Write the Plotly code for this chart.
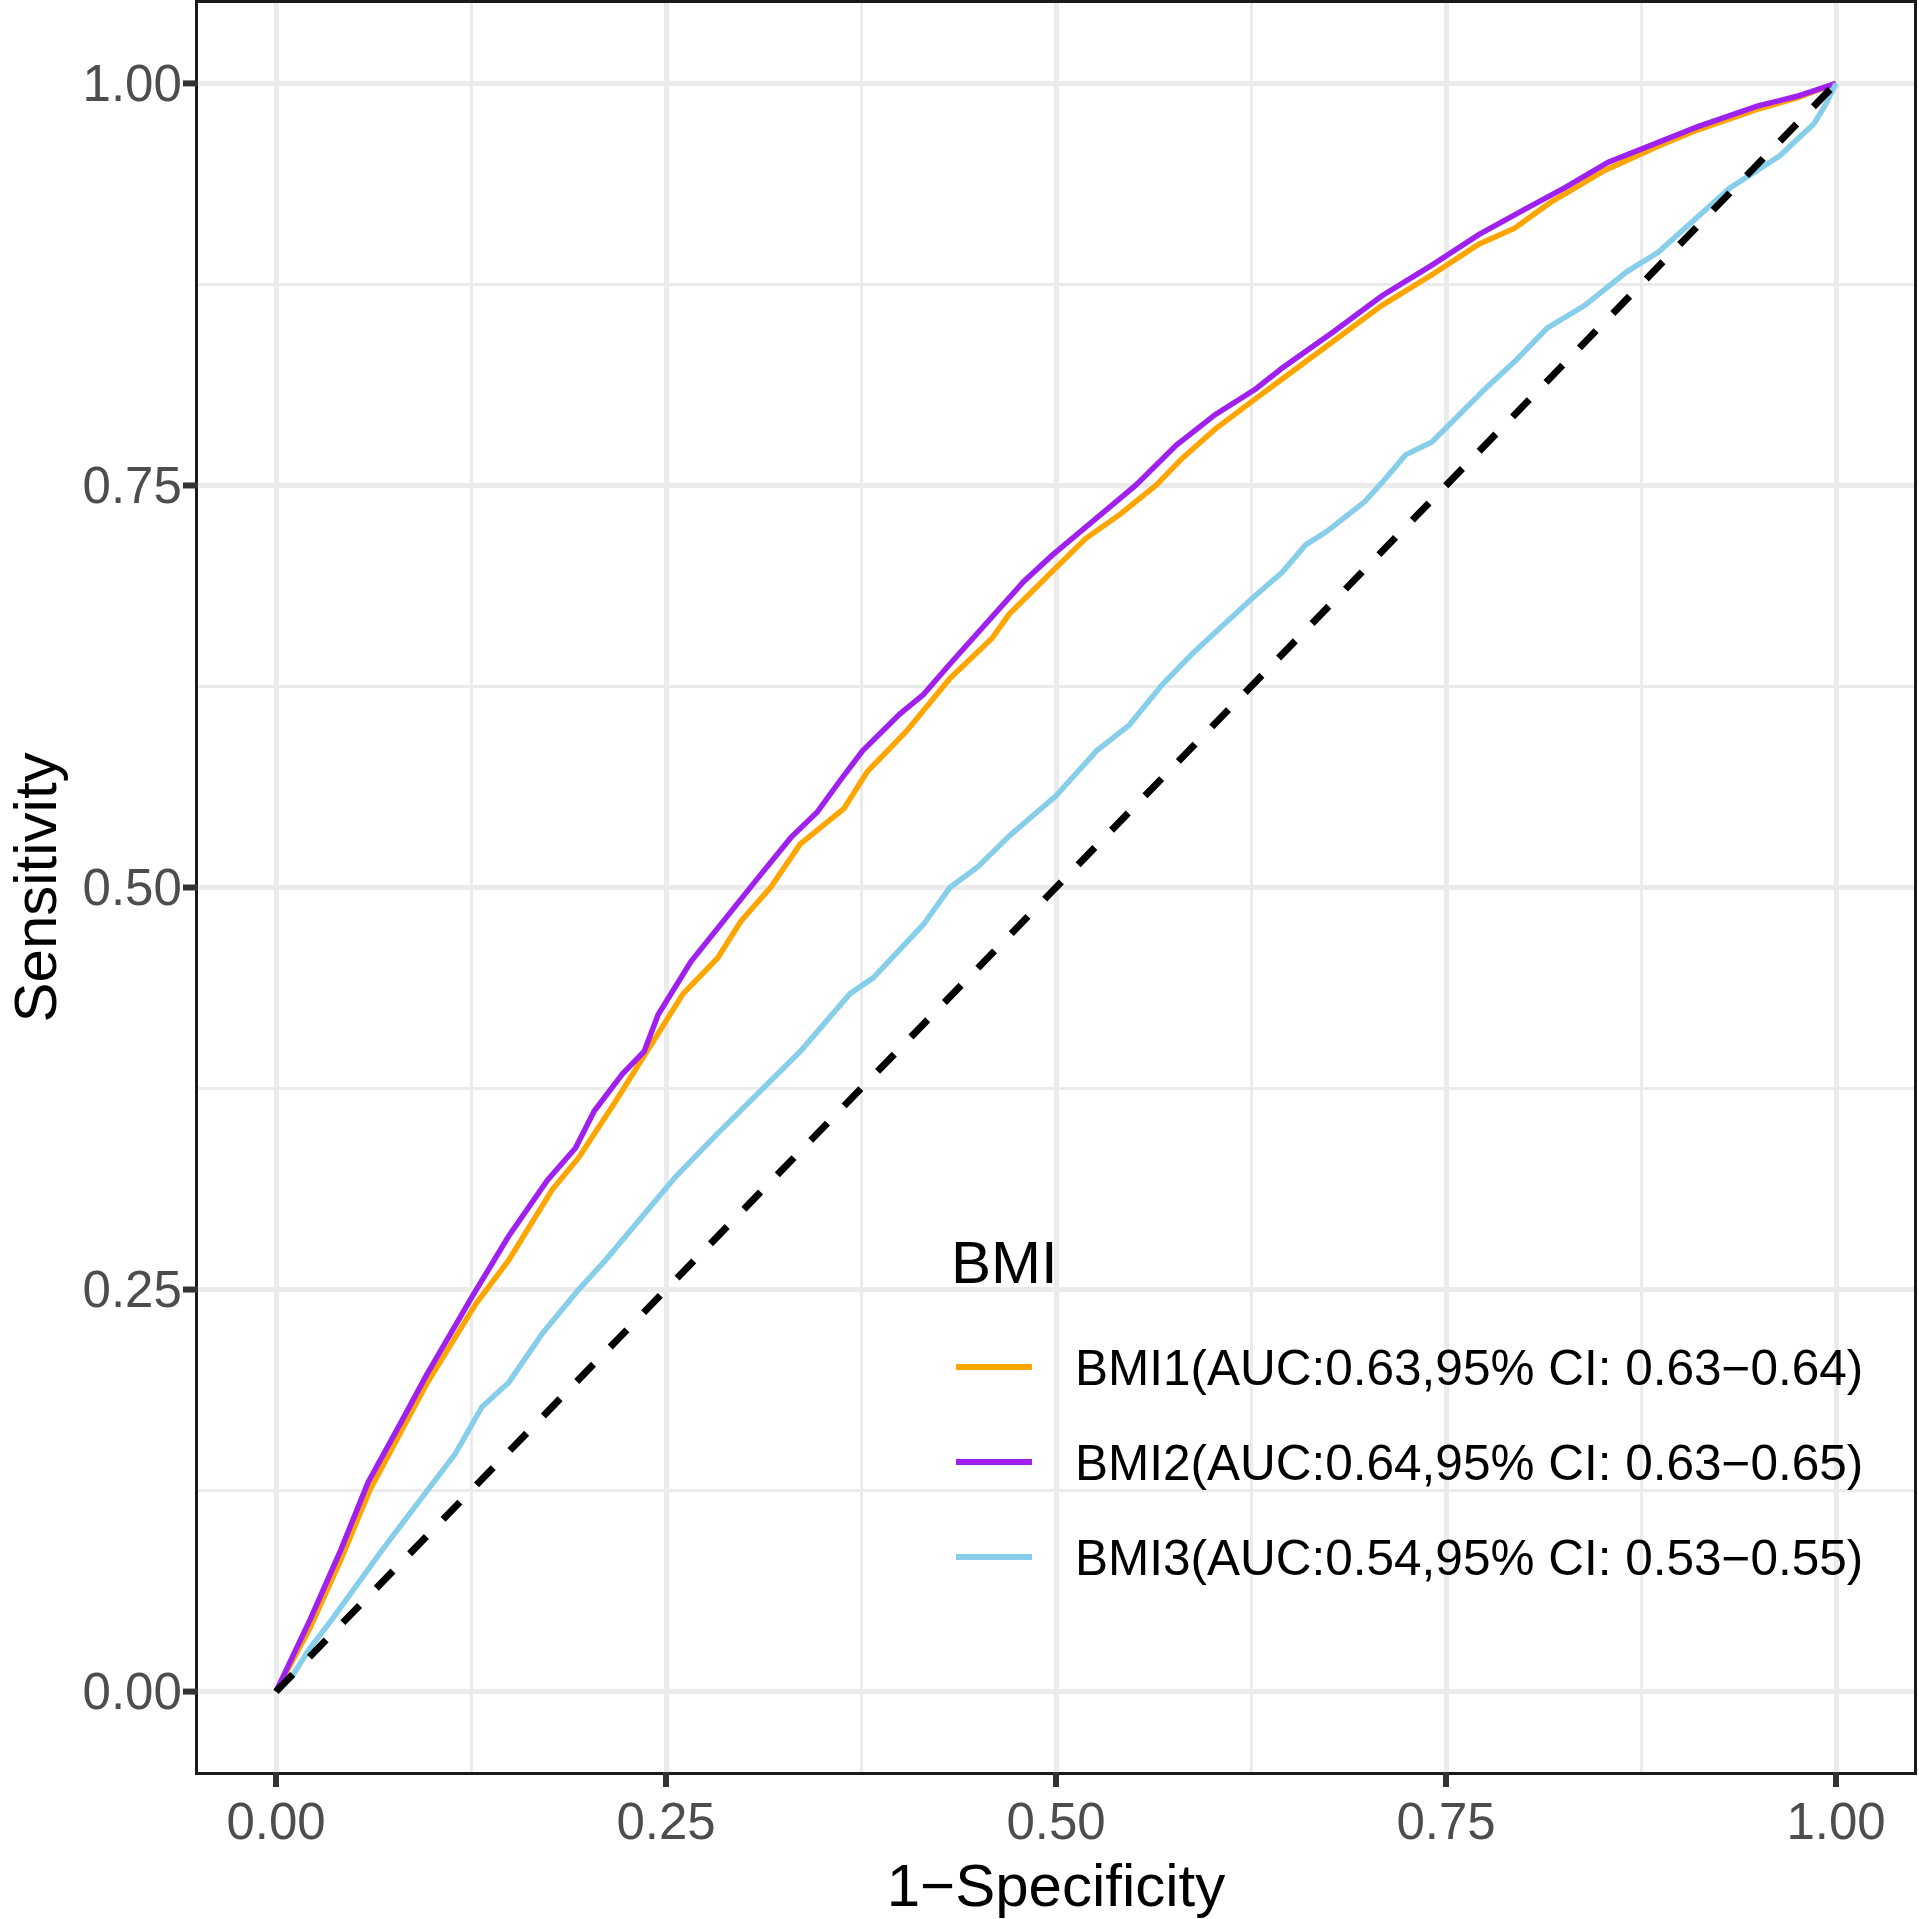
import plotly.graph_objects as go

# ROC curves (1 - specificity, sensitivity)
fpr_bmi1 = [0, 0.010, 0.022, 0.042, 0.060, 0.082, 0.097, 0.128, 0.149, 0.177, 0.194,
            0.217, 0.238, 0.261, 0.283, 0.298, 0.317, 0.336, 0.364, 0.379, 0.404, 0.432,
            0.459, 0.470, 0.496, 0.519, 0.541, 0.564, 0.581, 0.602, 0.628, 0.645, 0.677,
            0.709, 0.741, 0.771, 0.794, 0.817, 0.852, 0.886, 0.911, 0.950, 0.975, 1.0]
tpr_bmi1 = [0, 0.018, 0.040, 0.083, 0.125, 0.165, 0.192, 0.241, 0.268, 0.312, 0.332,
            0.366, 0.398, 0.434, 0.456, 0.479, 0.500, 0.527, 0.549, 0.572, 0.597, 0.630,
            0.655, 0.670, 0.695, 0.717, 0.732, 0.750, 0.767, 0.785, 0.804, 0.816, 0.839,
            0.862, 0.881, 0.900, 0.910, 0.926, 0.946, 0.961, 0.971, 0.984, 0.991, 1.0]

fpr_bmi2 = [0, 0.010, 0.022, 0.0415, 0.059, 0.081, 0.096, 0.126, 0.149, 0.174, 0.192,
            0.204, 0.222, 0.236, 0.245, 0.266, 0.291, 0.309, 0.330, 0.347, 0.362, 0.376,
            0.400, 0.415, 0.432, 0.456, 0.479, 0.498, 0.521, 0.551, 0.577, 0.602, 0.628,
            0.645, 0.677, 0.709, 0.741, 0.771, 0.801, 0.826, 0.854, 0.886, 0.911, 0.950,
            0.975, 1.0]
tpr_bmi2 = [0, 0.020, 0.045, 0.088, 0.130, 0.169, 0.196, 0.246, 0.283, 0.318, 0.338,
            0.361, 0.384, 0.398, 0.421, 0.454, 0.485, 0.506, 0.531, 0.547, 0.567, 0.585,
            0.608, 0.620, 0.639, 0.665, 0.690, 0.707, 0.726, 0.750, 0.775, 0.794, 0.810,
            0.823, 0.845, 0.868, 0.887, 0.906, 0.922, 0.935, 0.951, 0.963, 0.973, 0.986,
            0.992, 1.0]

fpr_bmi3 = [0, 0.010, 0.021, 0.036, 0.068, 0.098, 0.115, 0.132, 0.149, 0.171, 0.194,
            0.211, 0.234, 0.256, 0.283, 0.315, 0.336, 0.368, 0.383, 0.415, 0.432, 0.450,
            0.470, 0.500, 0.526, 0.547, 0.568, 0.587, 0.609, 0.626, 0.645, 0.660, 0.673,
            0.698, 0.711, 0.724, 0.741, 0.758, 0.775, 0.794, 0.815, 0.839, 0.866, 0.886,
            0.907, 0.932, 0.964, 0.986, 0.994, 1.0]
tpr_bmi3 = [0, 0.009, 0.026, 0.045, 0.088, 0.127, 0.148, 0.177, 0.192, 0.223, 0.250,
            0.268, 0.295, 0.320, 0.347, 0.378, 0.398, 0.434, 0.444, 0.477, 0.500, 0.513,
            0.532, 0.557, 0.585, 0.601, 0.626, 0.645, 0.665, 0.680, 0.696, 0.713, 0.721,
            0.740, 0.754, 0.769, 0.777, 0.794, 0.810, 0.827, 0.848, 0.862, 0.883, 0.895,
            0.913, 0.935, 0.955, 0.975, 0.988, 1.0]

ref_line = [0, 1]

legend_title = "BMI"
series_names = ["BMI1(AUC:0.63,95% CI: 0.63\u22120.64)",
                "BMI2(AUC:0.64,95% CI: 0.63\u22120.65)",
                "BMI3(AUC:0.54,95% CI: 0.53\u22120.55)"]
series_colors = ["#FFA500", "#A020F0", "#87CEEB"]

tick_vals = [0, 0.25, 0.5, 0.75, 1.0]
tick_text = ["0.00", "0.25", "0.50", "0.75", "1.00"]
minor_vals = [0.125, 0.375, 0.625, 0.875]

FONT = "Liberation Sans, Arial, sans-serif"
W = H = 1919
ML, MR, MT, MB = 198, 5, 3, 147
PW, PH = W - ML - MR, H - MT - MB
AX_RANGE = [-0.05, 1.05]
TICK_LEN = 15


def px_x(x):  # figure pixel -> paper x
    return (x - ML) / PW


def px_y(y):  # figure pixel (from top) -> paper y
    return (H - MB - y) / PH


def frac(v):  # axis value -> fraction of the plot area (same range on both axes)
    return (v - AX_RANGE[0]) / (AX_RANGE[1] - AX_RANGE[0])


fig = go.Figure()
curves = [(fpr_bmi1, tpr_bmi1), (fpr_bmi2, tpr_bmi2), (fpr_bmi3, tpr_bmi3)]
for i, (fx, ty) in enumerate(curves):
    fig.add_trace(go.Scatter(x=fx, y=ty, mode="lines", name=series_names[i],
                             showlegend=False,
                             line=dict(color=series_colors[i], width=5.5)))

fig.add_trace(go.Scatter(x=ref_line, y=ref_line, mode="lines", showlegend=False,
                         line=dict(color="black", width=7, dash="24px,24px")))

axis_style = dict(
    range=AX_RANGE, automargin=False,
    tickmode="array", tickvals=tick_vals, ticktext=tick_text,
    ticks="", ticklabelstandoff=3,
    tickfont=dict(size=51, color="#4D4D4D", family=FONT),
    showline=True, mirror=True, linecolor="#1A1A1A", linewidth=3,
    showgrid=True, gridcolor="#EBEBEB", gridwidth=5,
    minor=dict(tickmode="array", tickvals=minor_vals, showgrid=True,
               gridcolor="#EBEBEB", gridwidth=2.5),
    zeroline=False,
)

fig.update_xaxes(**axis_style,
                 title=dict(text="1\u2212Specificity", standoff=20,
                            font=dict(size=60, color="black", family=FONT)))
fig.update_yaxes(**axis_style)

shapes = []
# outside tick marks (kept off the axes so the labels sit as close as in ggplot)
for v in tick_vals:
    shapes.append(dict(type="line", xref="paper", yref="paper",
                       x0=frac(v), x1=frac(v), y0=0, y1=-TICK_LEN / PH,
                       layer="above", line=dict(color="#333333", width=6)))
    shapes.append(dict(type="line", xref="paper", yref="paper",
                       y0=frac(v), y1=frac(v), x0=0, x1=-TICK_LEN / PW,
                       layer="above", line=dict(color="#333333", width=6)))

# legend drawn by hand so key lines and spacing match the ggplot guide
key_x0, key_x1, text_x = 956, 1032, 1073
row_y0, row_step = 1367, 95

shapes.append(dict(type="rect", xref="paper", yref="paper", layer="between",
                   x0=px_x(945), x1=px_x(1041), y0=px_y(row_y0 - 48),
                   y1=px_y(row_y0 + 2 * row_step + 48),
                   fillcolor="white", line=dict(width=0)))
annotations = [
    dict(text="Sensitivity", xref="paper", yref="paper", x=px_x(35), y=0.5,
         xanchor="center", yanchor="middle", textangle=-90, showarrow=False,
         font=dict(size=60, color="black", family=FONT)),
    dict(text=legend_title, xref="paper", yref="paper",
         x=px_x(949), y=px_y(1262), xanchor="left", yanchor="middle",
         showarrow=False, font=dict(size=60, color="black", family=FONT)),
]
for i, name in enumerate(series_names):
    yy = px_y(row_y0 + i * row_step)
    shapes.append(dict(type="line", xref="paper", yref="paper",
                       x0=px_x(key_x0), x1=px_x(key_x1), y0=yy, y1=yy,
                       line=dict(color=series_colors[i], width=6)))
    annotations.append(dict(text=name, xref="paper", yref="paper",
                            x=px_x(text_x), y=yy, xanchor="left", yanchor="middle",
                            showarrow=False,
                            font=dict(size=49.5, color="black", family=FONT)))

fig.update_layout(
    width=W, height=H,
    margin=dict(l=ML, r=MR, t=MT, b=MB),
    paper_bgcolor="white", plot_bgcolor="white",
    font=dict(family=FONT),
    showlegend=False,
    shapes=shapes,
    annotations=annotations,
)

fig.write_html("out.html", config={"displayModeBar": False},
               post_script="document.body.style.margin='0px';"
                           "document.body.style.overflow='hidden';")
